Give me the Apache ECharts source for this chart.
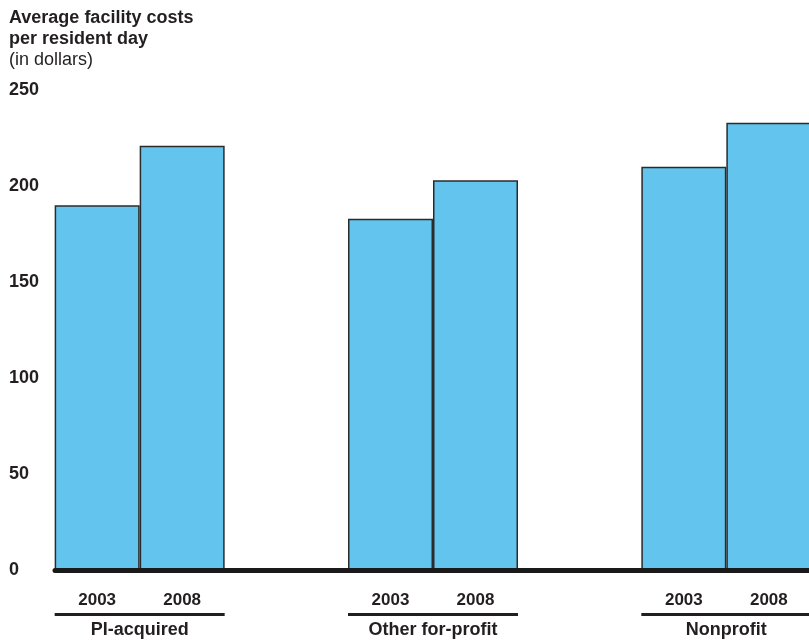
<!DOCTYPE html>
<html>
<head>
<meta charset="utf-8">
<script src="https://cdn.jsdelivr.net/npm/echarts@6/dist/echarts.min.js"></script>
<style>
html,body{margin:0;padding:0;background:#fff;}
#c{width:809px;height:642px;}
</style>
</head>
<body>
<div id="c"></div>
<script>
const categories = ['PI-acquired', 'Other for-profit', 'Nonprofit'];
const years = ['2003', '2008'];
const values2003 = [190, 183, 210];
const values2008 = [221, 203, 233];
const yMin = 0, yMax = 250, yInterval = 50;
const titleLines = ['Average facility costs', 'per resident day', '(in dollars)'];

const FONT = '"Liberation Sans", Arial, Helvetica, sans-serif';
const TXT = '#231f20';
const BAR = '#63c5ee';

const chart = echarts.init(document.getElementById('c'), null, {renderer: 'canvas'});
const seriesValues = [values2003, values2008];

chart.setOption({
  animation: false,
  backgroundColor: '#fff',
  title: {
    left: 9, top: 8, padding: 0,
    text: '{b|' + titleLines[0] + '}\n{b|' + titleLines[1] + '}\n{n|' + titleLines[2] + '}',
    textStyle: {
      rich: {
        b: {fontFamily: FONT, fontWeight: 'bold', fontSize: 18, color: TXT, lineHeight: 21},
        n: {fontFamily: FONT, fontWeight: 'normal', fontSize: 18, color: TXT, lineHeight: 21}
      }
    }
  },
  grid: [
    {left: -7, width: 880, top: 90, height: 480, outerBoundsMode: 'none', containLabel: false},
    {left: 55, width: 770, top: 90, height: 480, outerBoundsMode: 'none', containLabel: false}
  ],
  xAxis: [
    {
      gridIndex: 0, type: 'category', data: categories,
      axisLine: {show: false}, axisTick: {show: false},
      axisLabel: {
        margin: 43, interval: 0,
        formatter: function (v) { return '{line|}\n{name|' + v + '}'; },
        rich: {
          line: {width: 170, height: 3, lineHeight: 3, backgroundColor: TXT},
          name: {fontFamily: FONT, fontWeight: 'bold', fontSize: 18, color: TXT, lineHeight: 26, padding: [3, 0, 0, 0]}
        }
      }
    },
    {
      gridIndex: 1, type: 'category', data: [''], z: 10,
      axisLine: {show: true, lineStyle: {color: '#1a1a1a', width: 5}},
      axisTick: {show: false}, axisLabel: {show: false}
    }
  ],
  yAxis: [
    {gridIndex: 0, type: 'value', min: yMin, max: yMax, interval: yInterval, show: false},
    {
      gridIndex: 1, type: 'value', min: yMin, max: yMax, interval: yInterval,
      axisLine: {show: false}, axisTick: {show: false}, splitLine: {show: false},
      axisLabel: {align: 'left', margin: 46, padding: [4, 0, 0, 0], fontFamily: FONT, fontWeight: 'bold', fontSize: 18, color: TXT}
    }
  ],
  series: years.map(function (y, i) {
    return {
      name: y, type: 'bar', xAxisIndex: 0, yAxisIndex: 0,
      data: seriesValues[i],
      barWidth: 85, barGap: '0%',
      itemStyle: {color: BAR, borderColor: '#2b2b2b', borderWidth: 1.5},
      label: {
        show: true, position: 'bottom', distance: 22,
        formatter: '{a}',
        fontFamily: FONT, fontWeight: 'bold', fontSize: 17, color: TXT
      }
    };
  })
});
</script>
</body>
</html>
